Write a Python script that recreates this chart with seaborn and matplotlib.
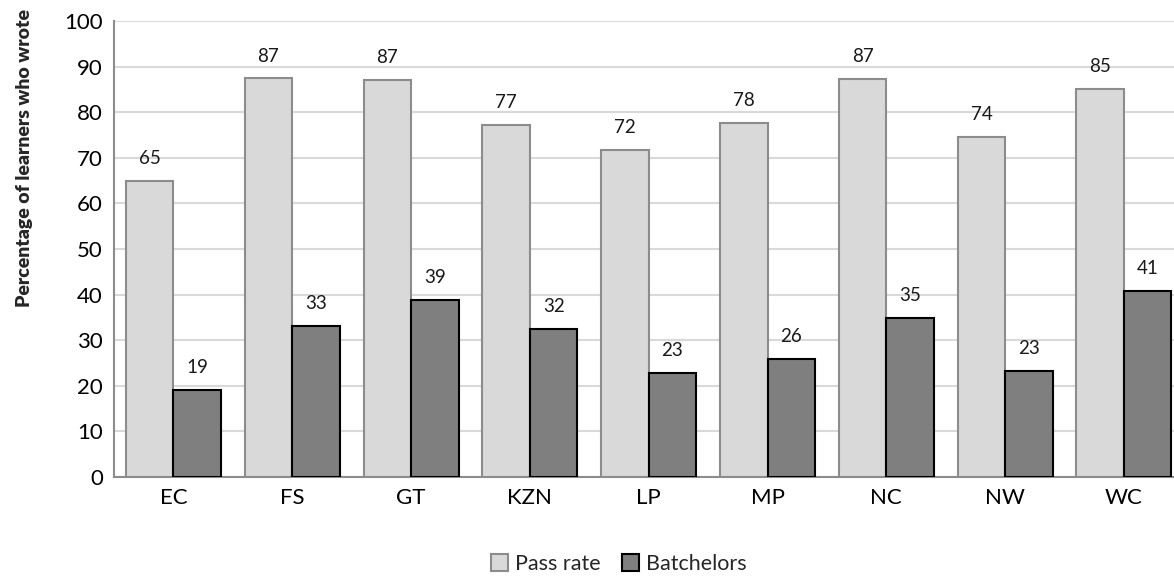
import matplotlib
matplotlib.use("Agg")
import matplotlib.pyplot as plt
import seaborn as sns
import pandas as pd
from matplotlib.patches import Patch

provinces = ["EC", "FS", "GT", "KZN", "LP", "MP", "NC", "NW", "WC"]
pass_rate = [65.0, 87.4, 87.0, 77.3, 71.8, 77.6, 87.3, 74.5, 85.1]
batchelors = [19.0, 33.1, 38.9, 32.4, 22.8, 25.9, 34.9, 23.3, 40.8]
series_names = ["Pass rate", "Batchelors"]
y_ticks = [0, 10, 20, 30, 40, 50, 60, 70, 80, 90, 100]

fill_colors = {"Pass rate": "#d9d9d9", "Batchelors": "#7f7f7f"}
edge_colors = {"Pass rate": "#8c8c8c", "Batchelors": "#000000"}

df = pd.DataFrame({
    "Province": provinces * 2,
    "Series": [series_names[0]] * len(provinces) + [series_names[1]] * len(provinces),
    "Value": pass_rate + batchelors,
})

sns.set_theme(style="white")
plt.rcParams["font.family"] = ["Lato", "DejaVu Sans"]

fig = plt.figure(figsize=(11.74, 5.78), dpi=100)
ax = fig.add_axes([114 / 1174, 1 - 477 / 578, 1 - 114 / 1174, (477 - 21) / 578])

sns.barplot(data=df, x="Province", y="Value", hue="Series", order=provinces,
            hue_order=series_names, palette=fill_colors, width=0.8, gap=0,
            ax=ax, legend=False, zorder=3)

for cont, name in zip(ax.containers, series_names):
    for bar in cont:
        bar.set_edgecolor(edge_colors[name])
        bar.set_linewidth(1.5)
    ax.bar_label(cont, labels=[f"{v:.0f}" for v in cont.datavalues],
                 padding=10, fontsize=13.5, color="#1a1a1a")

ax.set_ylim(0, 100)
ax.set_yticks(y_ticks)
ax.set_xlim(-0.5, 8 + 50 / 118.75)
ax.yaxis.grid(True, color="#d9d9d9", linewidth=1.5, zorder=0)
ax.set_axisbelow(True)
for s in ["top", "right"]:
    ax.spines[s].set_visible(False)
for s in ["left", "bottom"]:
    ax.spines[s].set_color("#8c8c8c")
    ax.spines[s].set_linewidth(1.5)
ax.tick_params(axis="both", length=0, labelsize=16, colors="#000000", pad=8)
ax.set_xlabel("")
ax.set_ylabel("Percentage of learners who wrote", fontsize=14, fontweight="heavy")
ax.yaxis.set_label_coords(-0.076, 0.70)

handles = [Patch(facecolor=fill_colors[n], edgecolor=edge_colors[n], linewidth=1.5, label=n)
           for n in series_names]
fig.legend(handles=handles, loc="center", bbox_to_anchor=(0.527, 0.024), ncol=2,
           frameon=False, fontsize=15.5, handlelength=0.8, handleheight=0.8,
           handletextpad=0.3, columnspacing=1.0)

fig.savefig("out.png", dpi=100)
